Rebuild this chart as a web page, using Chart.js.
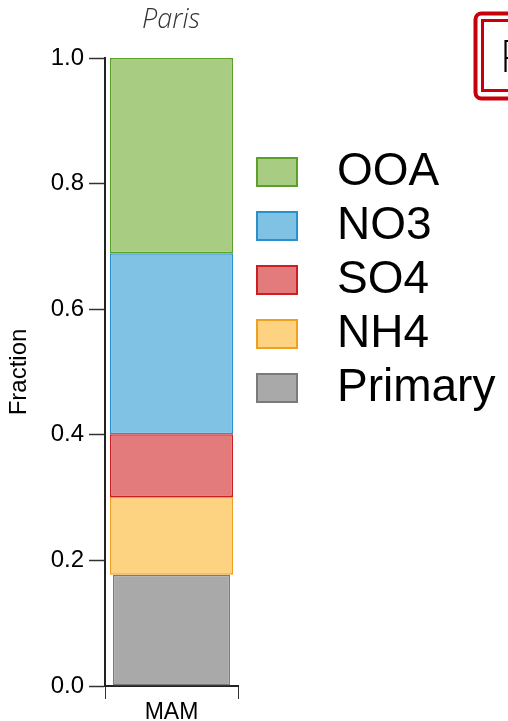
<!DOCTYPE html>
<html>
<head>
<meta charset="utf-8">
<script src="https://cdn.jsdelivr.net/npm/chart.js@4/dist/chart.umd.min.js"></script>
<style>
  html, body { margin: 0; padding: 0; background: #fff; }
  #wrap { width: 508px; height: 721px; }
</style>
</head>
<body>
<div id="wrap"><canvas id="chart" width="508" height="721"></canvas></div>
<script>
// ------------------------
// Data
// ------------------------
const categories = ['MAM'];
const primary = [0.177];
const nh4 = [0.124];
const so4 = [0.100];
const no3 = [0.288];
const ooa = [0.311];
const yTicks = [0, 0.2, 0.4, 0.6, 0.8, 1.0];

const FONT = '"Liberation Sans", Arial, sans-serif';

// Title "Paris" and the clipped red box in the top right corner
const decorPlugin = {
    id: 'decor',
    afterDraw(chart) {
        const ctx = chart.ctx;
        ctx.save();
        ctx.fillStyle = '#333';
        ctx.font = 'italic 300 27px "Open Sans", sans-serif';
        ctx.textAlign = 'center';
        ctx.textBaseline = 'alphabetic';
        ctx.fillText('Paris', 171, 28);

        ctx.strokeStyle = '#c8000a';
        ctx.lineWidth = 4;
        ctx.beginPath();
        ctx.roundRect(475.5, 13.5, 60, 85, 6);
        ctx.stroke();
        ctx.lineWidth = 3;
        ctx.strokeRect(482.5, 20.5, 60, 70);
        ctx.fillStyle = '#000';
        ctx.font = '300 44px "Open Sans", sans-serif';
        ctx.textAlign = 'left';
        ctx.fillText('P', 500, 72);
        ctx.restore();
    }
};

// Legend on the right, top to bottom OOA ... Primary
const legendPlugin = {
    id: 'sideLegend',
    afterDraw(chart) {
        const ctx = chart.ctx;
        const sets = chart.data.datasets.slice().reverse();
        ctx.save();
        ctx.font = '46px ' + FONT;
        ctx.textAlign = 'left';
        ctx.textBaseline = 'alphabetic';
        sets.forEach((ds, i) => {
            const top = 157 + i * 54;
            ctx.fillStyle = ds.backgroundColor;
            ctx.fillRect(256, top, 42, 30);
            ctx.strokeStyle = ds.borderColor;
            ctx.lineWidth = 2;
            ctx.strokeRect(257, top + 1, 40, 28);
            ctx.fillStyle = '#000';
            ctx.fillText(ds.label, 337, top + 28);
        });
        ctx.restore();
    }
};

new Chart(document.getElementById('chart'), {
    type: 'bar',
    data: {
        labels: categories,
        datasets: [
            { label: 'Primary', data: primary, backgroundColor: '#a9a9a9', borderColor: '#7a7a7a', barPercentage: 0.88 },
            { label: 'NH4', data: nh4, backgroundColor: '#fdd382', borderColor: '#f0a020' },
            { label: 'SO4', data: so4, backgroundColor: '#e37b7d', borderColor: '#cc1f24' },
            { label: 'NO3', data: no3, backgroundColor: '#7fc2e4', borderColor: '#2a90cc' },
            { label: 'OOA', data: ooa, backgroundColor: '#a8cc82', borderColor: '#5aa02a' }
        ]
    },
    options: {
        responsive: false,
        animation: false,
        layout: { padding: { left: 0, right: 270, top: 58, bottom: 0 } },
        datasets: {
            bar: { barPercentage: 0.925, categoryPercentage: 1, borderWidth: 1.5, borderSkipped: false }
        },
        plugins: {
            legend: { display: false },
            tooltip: { enabled: false }
        },
        scales: {
            x: {
                stacked: true,
                afterFit: s => { s.height = 35; },
                grid: { drawOnChartArea: false, color: '#333', tickLength: 13 },
                border: { color: '#222', width: 2 },
                ticks: { font: { family: FONT, size: 23 }, color: '#000', padding: 0 }
            },
            y: {
                stacked: true,
                min: 0,
                max: 1,
                afterFit: s => { s.width = 105; },
                afterBuildTicks: s => { s.ticks = yTicks.map(v => ({ value: v })); },
                title: {
                    display: true,
                    text: 'Fraction',
                    font: { family: FONT, size: 24 },
                    color: '#000',
                    padding: { top: 5, bottom: 0 }
                },
                grid: { drawOnChartArea: false, color: '#333', tickLength: 16, tickWidth: 1.5 },
                border: { color: '#222', width: 2 },
                ticks: {
                    font: { family: FONT, size: 24 },
                    color: '#000',
                    padding: 5,
                    callback: v => v.toFixed(1)
                }
            }
        }
    },
    plugins: [decorPlugin, legendPlugin]
});
</script>
</body>
</html>
